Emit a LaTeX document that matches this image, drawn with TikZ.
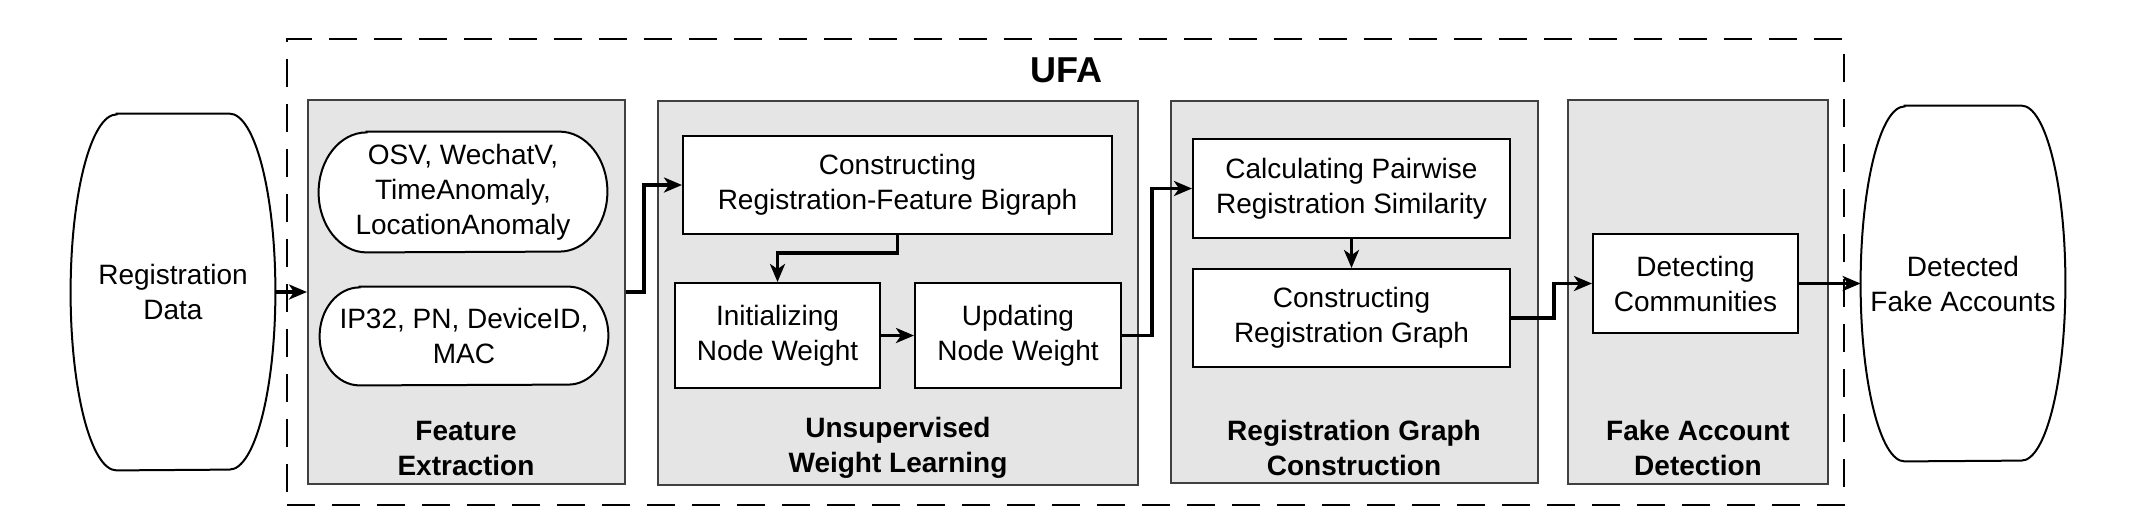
\documentclass[tikz,border=0pt]{standalone}
\usepackage{fontspec}
\setmainfont{Liberation Sans}
\usetikzlibrary{arrows.meta}
\pgfdeclarelayer{panels}
\pgfdeclarelayer{shapes}
\pgfsetlayers{panels,shapes,main}
\begin{document}
\begin{tikzpicture}[x=0.5pt,y=-0.5pt,
  txt/.style={font=\fontsize{14}{17.5}\selectfont, align=center},
  panel/.style={draw=black!75, fill=black!10, line width=1pt, inner sep=0pt},
  wbox/.style={draw=black, fill=white, line width=1pt, inner sep=0pt, txt},
  ghost/.style={inner sep=0pt, txt},
  flow/.style={line width=1.6pt, -{Stealth[length=9pt,width=7.5pt,inset=2.5pt]}},
  ptitle/.style={align=center, font=\fontsize{14}{17.5}\selectfont\bfseries},
  outline/.style={line width=1pt, draw=black, fill=white}
]
\useasboundingbox (0,0) rectangle (2136,526);

% outer dashed UFA frame
\node[draw, dash pattern=on 14pt off 8.5pt, line width=1pt, minimum width=778.5pt, minimum height=233pt, inner sep=0pt] (ufa) at (1065.5,272) {};
\node[font=\fontsize{18}{21}\selectfont\bfseries] (ufat) at (1066,70) {UFA};

% panels
\begin{pgfonlayer}{panels}
\node[panel, minimum width=158.5pt, minimum height=192pt] (fe) at (466.5,292) {};
\node[panel, minimum width=240pt, minimum height=192pt] (uwl) at (898,293) {};
\node[panel, minimum width=183.5pt, minimum height=191pt] (rgc) at (1354.5,292) {};
\node[panel, minimum width=130pt, minimum height=192pt] (fad) at (1698,292) {};
\end{pgfonlayer}

\node[ptitle] (felab) at (466,448) {Feature\\Extraction};
\node[ptitle] (uwllab) at (898,448) {Unsupervised\\Weight Learning};
\node[ptitle] (rgclab) at (1354,448) {Registration Graph\\Construction};
\node[ptitle] (fadlab) at (1698,448) {Fake Account\\Detection};

% input / output shapes
\node[ghost, minimum width=102pt, minimum height=178pt] (reg) at (173,292) {Registration\\Data};
\node[ghost, minimum width=102pt, minimum height=177.5pt] (dfa) at (1963,283.5) {Detected\\Fake Accounts};

% feature extraction content
\node[ghost, minimum width=144pt, minimum height=60pt] (f1) at (463,192) {OSV, WechatV,\\TimeAnomaly,\\LocationAnomaly};
\node[ghost, minimum width=144pt, minimum height=49pt] (f2) at (464,336) {IP32, PN, DeviceID,\\MAC};

\begin{pgfonlayer}{shapes}
\draw[outline] ([xshift=23pt]reg.north west) -- ([xshift=-23pt]reg.north east)
  arc[start angle=90,end angle=-90,x radius=23pt,y radius=89pt]
  -- ([xshift=23pt]reg.south west)
  arc[start angle=270,end angle=90,x radius=23pt,y radius=89pt] -- cycle;
\draw[outline] ([xshift=22pt]dfa.north west) -- ([xshift=-22pt]dfa.north east)
  arc[start angle=90,end angle=-90,x radius=22pt,y radius=88.75pt]
  -- ([xshift=22pt]dfa.south west)
  arc[start angle=270,end angle=90,x radius=22pt,y radius=88.75pt] -- cycle;
\draw[outline] ([xshift=24pt]f1.north west) -- ([xshift=-24pt]f1.north east)
  arc[start angle=90,end angle=-90,x radius=24pt,y radius=30pt]
  -- ([xshift=24pt]f1.south west)
  arc[start angle=270,end angle=90,x radius=24pt,y radius=30pt] -- cycle;
\draw[outline] ([xshift=20pt]f2.north west) -- ([xshift=-20pt]f2.north east)
  arc[start angle=90,end angle=-90,x radius=20pt,y radius=24.5pt]
  -- ([xshift=20pt]f2.south west)
  arc[start angle=270,end angle=90,x radius=20pt,y radius=24.5pt] -- cycle;
\end{pgfonlayer}

% unsupervised weight learning content
\node[wbox, minimum width=214.5pt, minimum height=49pt] (crfb) at (897.5,185) {Constructing\\Registration-Feature Bigraph};
\node[wbox, minimum width=102.5pt, minimum height=52.5pt] (init) at (777.5,335.5) {Initializing\\Node Weight};
\node[wbox, minimum width=103pt, minimum height=52.5pt] (upd) at (1018,335.5) {Updating\\Node Weight};

% registration graph construction content
\node[wbox, minimum width=158.5pt, minimum height=49.5pt] (calc) at (1351.5,188.5) {Calculating Pairwise\\Registration Similarity};
\node[wbox, minimum width=158.5pt, minimum height=49pt] (crg) at (1351.5,318) {Constructing\\Registration Graph};

% fake account detection content
\node[wbox, minimum width=102.5pt, minimum height=49.5pt] (dc) at (1695.5,283.5) {Detecting\\Communities};

% connectors
\draw[flow] (reg.east) -- (reg.east -| fe.west);
\draw[flow] (fe.east) -- ++(18,0) |- (crfb.west);
\draw[flow] (crfb.south) -- ++(0,18) -| (init.north);
\draw[flow] (init.east) -- (upd.west);
\draw[flow] (upd.east) -- ++(30,0) |- (calc.west);
\draw[flow] (calc.south) -- (crg.north);
\draw[flow] (crg.east) -- ++(43,0) |- (dc.west);
\draw[flow] (dc.east) -- (dfa.west);
\end{tikzpicture}
\end{document}
